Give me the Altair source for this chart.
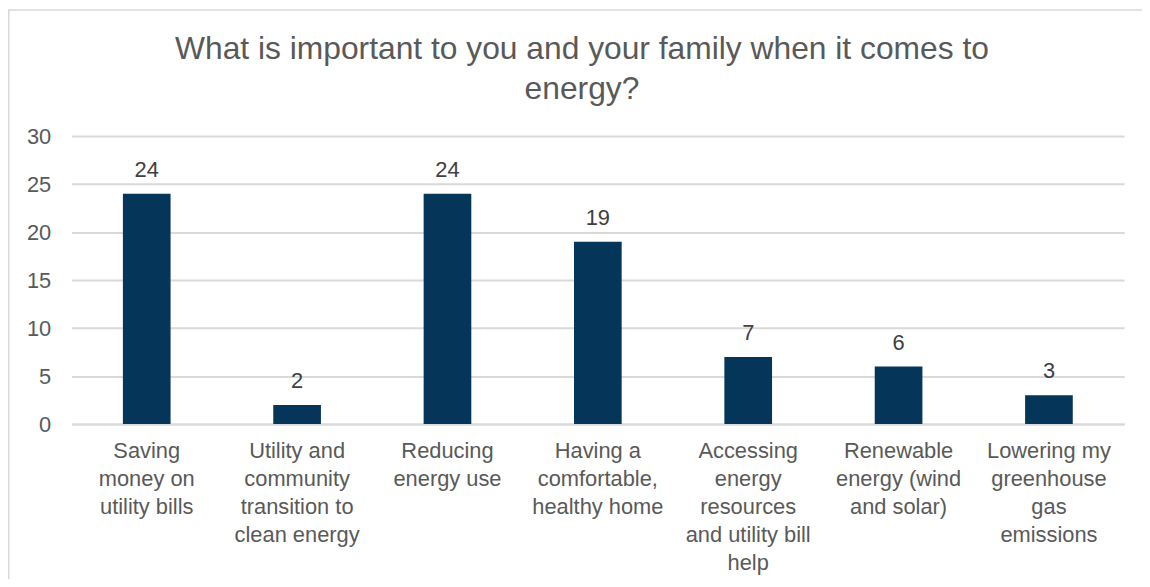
import altair as alt
import pandas as pd

categories = [
    "Saving|money on|utility bills",
    "Utility and|community|transition to|clean energy",
    "Reducing|energy use",
    "Having a|comfortable,|healthy home",
    "Accessing|energy|resources|and utility bill|help",
    "Renewable|energy (wind|and solar)",
    "Lowering my|greenhouse|gas|emissions",
]
values = [24, 2, 24, 19, 7, 6, 3]
title_lines = ["What is important to you and your family when it comes to", "energy?"]

df = pd.DataFrame({"cat": categories, "val": values})

W, H = 1060, 290
TEXT = "#595959"
FONT = "Liberation Sans"

x_enc = alt.X(
    "cat:N",
    sort=categories,
    scale=alt.Scale(paddingInner=0.683, paddingOuter=0.3415),
    axis=alt.Axis(
        title=None,
        labelAngle=0,
        labelExpr="split(datum.label, '|')",
        labelFontSize=22,
        labelLineHeight=28,
        labelColor=TEXT,
        labelFont=FONT,
        labelPadding=17,
        ticks=False,
        domainColor="#d9d9d9",
        domainWidth=2,
        labelLimit=200,
    ),
)
y_enc = alt.Y(
    "val:Q",
    scale=alt.Scale(domain=[0, 30]),
    axis=alt.Axis(
        title=None,
        values=[0, 5, 10, 15, 20, 25, 30],
        labelFontSize=22,
        labelColor=TEXT,
        labelFont=FONT,
        labelPadding=21,
        ticks=False,
        domain=False,
        gridColor="#d9d9d9",
        gridWidth=2,
    ),
)

base = alt.Chart(df)
bars = base.mark_bar(color="#06355A").encode(x=x_enc, y=y_enc)
labels = base.mark_text(
    baseline="bottom", dy=-12, fontSize=22, color="#404040", font=FONT
).encode(x=alt.X("cat:N", sort=categories), y="val:Q", text="val:Q")

border = alt.Chart(pd.DataFrame({"a": [0]})).mark_rect(
    fill=None, stroke="#d9d9d9", strokeWidth=1.5, clip=False
).encode(
    x=alt.value(-63.2), x2=alt.value(1200), y=alt.value(-127), y2=alt.value(700)
)

chart = (
    alt.layer(border, bars, labels)
    .properties(
        width=W,
        height=H,
        autosize=alt.AutoSizeParams(type="none"),
        padding={"left": 64, "top": 127, "right": 18, "bottom": 154},
        title=alt.TitleParams(
            text=title_lines,
            fontSize=32,
            font=FONT,
            fontWeight="normal",
            color=TEXT,
            anchor="middle",
            dx=-16,
            offset=0,
            dy=97,
            lineHeight=40,
        ),
    )
    .configure(background="white")
    .configure_view(stroke=None)
)

chart.save("out.html", embed_options={"renderer": "svg", "actions": False})
